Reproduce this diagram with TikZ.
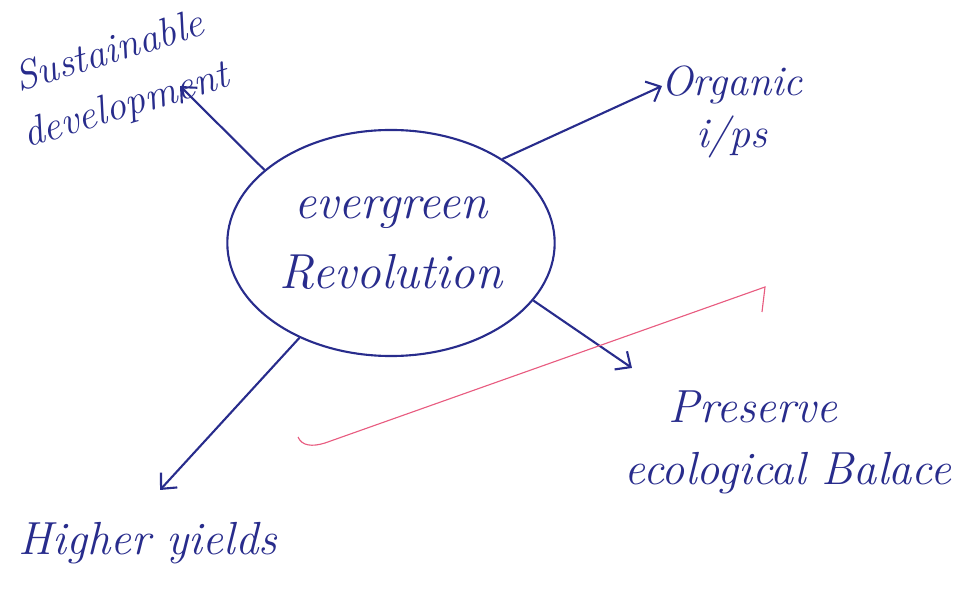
\documentclass[tikz,border=0pt]{standalone}
\usepackage{tikz}
\usetikzlibrary{shapes, arrows.meta, positioning}
\definecolor{ink}{RGB}{40,44,140}
\definecolor{pinkink}{RGB}{232,92,128}

\tikzset{
  lbl/.style={text=ink, align=center, font=\itshape\fontsize{31}{42}\selectfont},
  arr/.style={draw=ink, line width=1.5pt, -{Straight Barb[length=3mm,width=5.5mm]}}
}

\begin{document}
\begin{tikzpicture}[x=0.025cm, y=-0.025cm, line width=1.5pt]
    \useasboundingbox (0,0) rectangle (969,590);

    % central idea
    \node [ellipse, draw=ink, minimum width=7.8cm, minimum height=5.65cm, text=ink,
           align=center, font=\itshape\fontsize{35}{50}\selectfont] (er) at (391,243) {evergreen\\Revolution};

    % outcomes
    \node [lbl, rotate=17, font=\itshape\fontsize{29}{40}\selectfont] (sd) at (118,80) {Sustainable\\development};
    \node [lbl, font=\itshape\fontsize{30}{37}\selectfont] (oi) at (732,112) {Organic\\i/ps};
    \node [lbl, align=left, font=\itshape\fontsize{33}{44}\selectfont] (pb) at (788,442) {\hspace*{1.1cm}Preserve\\ecological Balace};
    \node [lbl, font=\itshape\fontsize{33}{42}\selectfont] (hy) at (148,543) {Higher yields};

    \coordinate (sdtip) at (180,86);
    \coordinate (oitip) at (662,86);
    \coordinate (pbtip) at (632,368);
    \coordinate (hytip) at (160,490);

    \draw [arr] (er.150) -- (sdtip);
    \draw [arr] (er.37) -- (oitip);
    \draw [arr] (er.338) -- (pbtip);
    \draw [arr] (er.226) -- (hytip);

    % red underline mark
    \draw [pinkink, line width=0.8pt] (298,437) .. controls (302,446) and (312,447) .. (325,443)
        -- (765,287) -- (762,312);
\end{tikzpicture}
\end{document}
